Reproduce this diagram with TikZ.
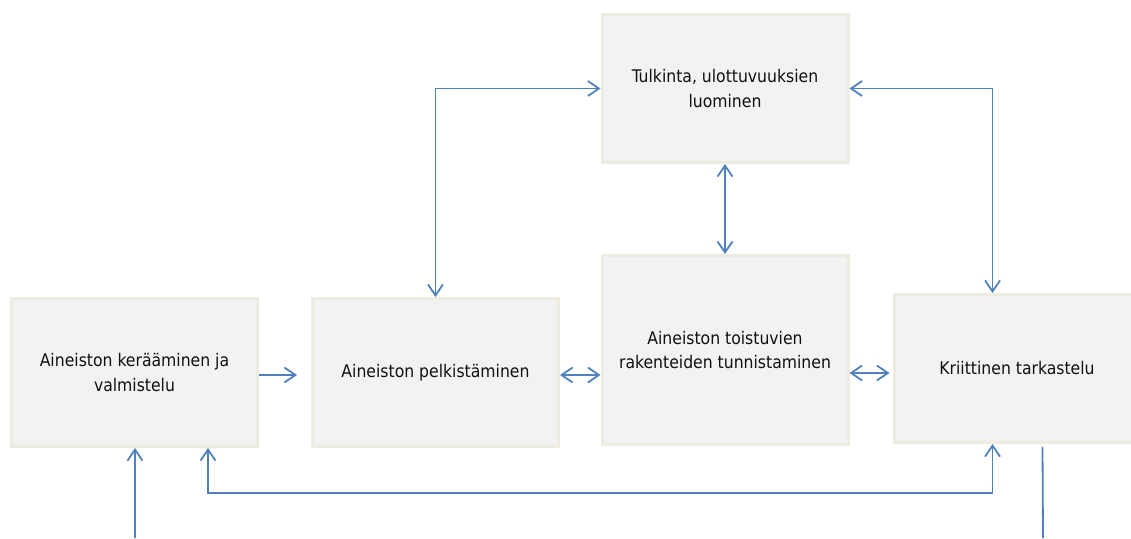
\documentclass[tikz,border=0pt]{standalone}
\usepackage{fontspec}
\setmainfont{DejaVu Sans Condensed}
\usetikzlibrary{arrows.meta,calc}
\definecolor{boxfill}{HTML}{F2F2F2}
\definecolor{boxline}{HTML}{EEECE1}
\definecolor{arr}{HTML}{4F81BD}
\definecolor{txt}{HTML}{111111}
\begin{document}
\begin{tikzpicture}[x=1pt,y=1pt,
  stagebox/.style={draw=boxline, line width=3pt, fill=boxfill, text=txt, minimum width=246pt, minimum height=148pt, align=center, inner sep=0pt, font=\fontsize{17.4}{24.5}\selectfont},
  tip/.style={},
  conn/.style={draw=arr, line width=1.8pt, arrows={-Straight Barb[length=11pt,width=15pt,line width=1.8pt]}},
  conn2/.style={draw=arr, line width=1.8pt, arrows={Straight Barb[length=11pt,width=15pt,line width=1.8pt]-Straight Barb[length=11pt,width=15pt,line width=1.8pt]}},
  plain/.style={draw=arr, line width=1.8pt}]
\useasboundingbox (0,0) rectangle (1131,-538);
\node[stagebox] (b1) at (134.5,-372.5) {Aineiston kerääminen ja\\valmistelu};
\node[stagebox] (b2) at (435.5,-372.5) {Aineiston pelkistäminen};
\node[stagebox, minimum height=189pt] (b3) at (725,-350) {Aineiston toistuvien\\rakenteiden tunnistaminen};
\node[stagebox] (b5) at (725,-88.5) {Tulkinta, ulottuvuuksien\\luominen};
\node[stagebox] (b4) at (1017,-368.5) {Kriittinen tarkastelu};
\coordinate (in) at (135,-538);
\coordinate (out) at (1043,-538);
\path[conn] (b1.east |- 0,-375) -- ([xshift=-14pt]b2.west |- 0,-375);
\path[conn2] (b2.east |- 0,-375) -- (b3.west |- 0,-375);
\path[conn2] (b3.east |- 0,-373) -- ([xshift=-3pt]b4.west |- 0,-373);
\path[conn2] (b5.south) -- (b3.north);
\path[conn2] (b2.north) |- (b5.west);
\path[conn2] (b5.east) -| ($(b4.north west)+(100,0)$);
\path[conn2] ($(b4.south west)+(100,0)$) -- ++(0,-49) -| ($(b1.south west)+(198,0)$);
\path[conn] (in) -- (in |- b1.south);
\path[plain] ($(b4.south west)+(150,-3)$) -- (out);
\end{tikzpicture}
\end{document}
